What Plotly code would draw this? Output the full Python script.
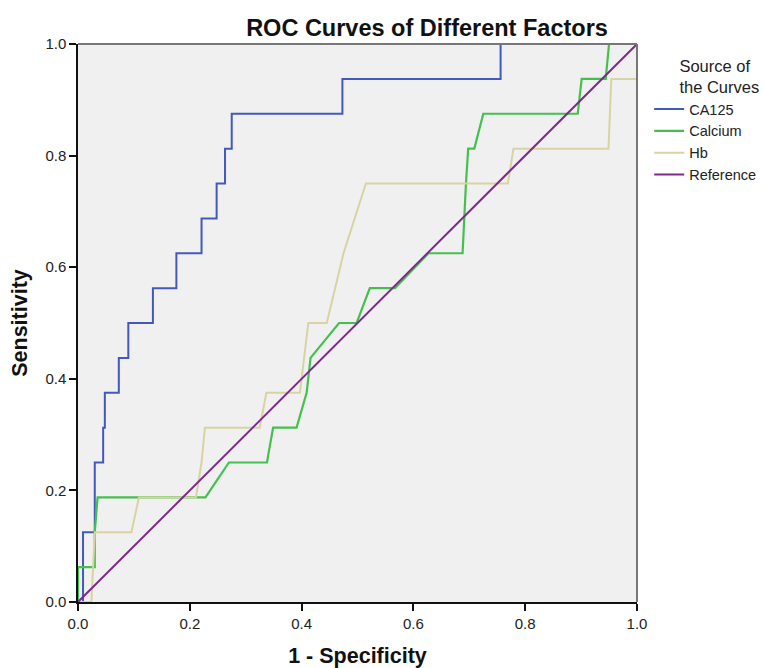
import plotly.graph_objects as go

# ---- data ----
ca125_fpr = [0, 0.009, 0.009, 0.03, 0.03, 0.045, 0.045, 0.048, 0.048, 0.073, 0.073, 0.09, 0.09,
             0.134, 0.134, 0.176, 0.176, 0.221, 0.221, 0.248, 0.248, 0.263, 0.263, 0.275, 0.275,
             0.473, 0.473, 0.756, 0.756, 1.0]
ca125_tpr = [0, 0, 0.125, 0.125, 0.25, 0.25, 0.3125, 0.3125, 0.375, 0.375, 0.4375, 0.4375, 0.5,
             0.5, 0.5625, 0.5625, 0.625, 0.625, 0.6875, 0.6875, 0.75, 0.75, 0.8125, 0.8125, 0.875,
             0.875, 0.9375, 0.9375, 1.0, 1.0]

calcium_fpr = [0, 0, 0.03, 0.03, 0.035, 0.228, 0.27, 0.338, 0.349, 0.391, 0.409, 0.416, 0.467,
               0.4985, 0.522, 0.567, 0.627, 0.688, 0.694, 0.698, 0.709, 0.725, 0.894, 0.901,
               0.944, 0.950, 1.0]
calcium_tpr = [0, 0.0625, 0.0625, 0.125, 0.1875, 0.1875, 0.25, 0.25, 0.3125, 0.3125, 0.375,
               0.4375, 0.5, 0.5, 0.5625, 0.5625, 0.625, 0.625, 0.75, 0.8125, 0.8125, 0.875,
               0.875, 0.9375, 0.9375, 1.0, 1.0]

hb_fpr = [0, 0.024, 0.03, 0.0956, 0.109, 0.211, 0.221, 0.227, 0.325, 0.337, 0.397, 0.412, 0.445,
          0.475, 0.515, 0.769, 0.779, 0.949, 0.954, 1.0, 1.0]
hb_tpr = [0, 0, 0.125, 0.125, 0.1875, 0.1875, 0.25, 0.3125, 0.3125, 0.375, 0.375, 0.5, 0.5,
          0.625, 0.75, 0.75, 0.8125, 0.8125, 0.9375, 0.9375, 1.0]

ref_fpr = [0, 1]
ref_tpr = [0, 1]

series_names = ["CA125", "Calcium", "Hb", "Reference"]
series_colors = ["#4358bd", "#45c04f", "#d8d3a2", "#7d2a8c"]
series_widths = [2, 2.2, 2, 2]

tick_vals = [0.0, 0.2, 0.4, 0.6, 0.8, 1.0]
tick_text = ["0.0", "0.2", "0.4", "0.6", "0.8", "1.0"]

xs = [ca125_fpr, calcium_fpr, hb_fpr, ref_fpr]
ys = [ca125_tpr, calcium_tpr, hb_tpr, ref_tpr]

FONT = "Liberation Sans, Arial, sans-serif"

fig = go.Figure()
for name, x, y, c, w in zip(series_names, xs, ys, series_colors, series_widths):
    fig.add_trace(go.Scatter(x=x, y=y, mode="lines", name=name,
                             line=dict(color=c, width=w)))

axis_common = dict(
    range=[0, 1], tickvals=tick_vals, ticktext=tick_text,
    ticks="outside", ticklen=7, tickwidth=1.5, tickcolor="#111",
    showline=True, linecolor="#111", linewidth=1.5,
    showgrid=False, zeroline=False,
    tickfont=dict(family=FONT, size=15, color="#222"),
)

fig.update_layout(
    width=764, height=668,
    margin=dict(l=78, r=127, t=44, b=66, autoexpand=False),
    paper_bgcolor="white", plot_bgcolor="#f0f0f0",
    title=dict(text="<b>ROC Curves of Different Factors</b>",
               x=427 / 764, xanchor="center", y=1 - 28 / 668, yanchor="middle",
               font=dict(family=FONT, size=23.5, color="#111")),
    xaxis=dict(axis_common, title=dict(text="<b>1 - Specificity</b>", standoff=18,
                                       font=dict(family=FONT, size=21.5, color="#111"))),
    yaxis=dict(axis_common, title=dict(text="<b>Sensitivity</b>", standoff=12,
                                       font=dict(family=FONT, size=21.5, color="#111"))),
    legend=dict(
        x=1.0218, xanchor="left", y=0.989, yanchor="top",
        bgcolor="rgba(0,0,0,0)", borderwidth=0,
        font=dict(family=FONT, size=14.5, color="#222"),
        title=dict(text="Source of<br>the Curves", side="top right",
                   font=dict(family=FONT, size=16.5, color="#222")),
        tracegroupgap=0, itemwidth=30,
    ),
    shapes=[
        dict(type="line", xref="x domain", yref="y domain", x0=0, x1=1, y0=1, y1=1,
             line=dict(color="#777", width=2)),
        dict(type="line", xref="x domain", yref="y domain", x0=1, x1=1, y0=0, y1=1,
             line=dict(color="#777", width=2)),
    ],
)

fig.write_html("out.html", config={"displayModeBar": False},
               post_script="document.body.style.margin='0';document.body.style.overflow='hidden';")
